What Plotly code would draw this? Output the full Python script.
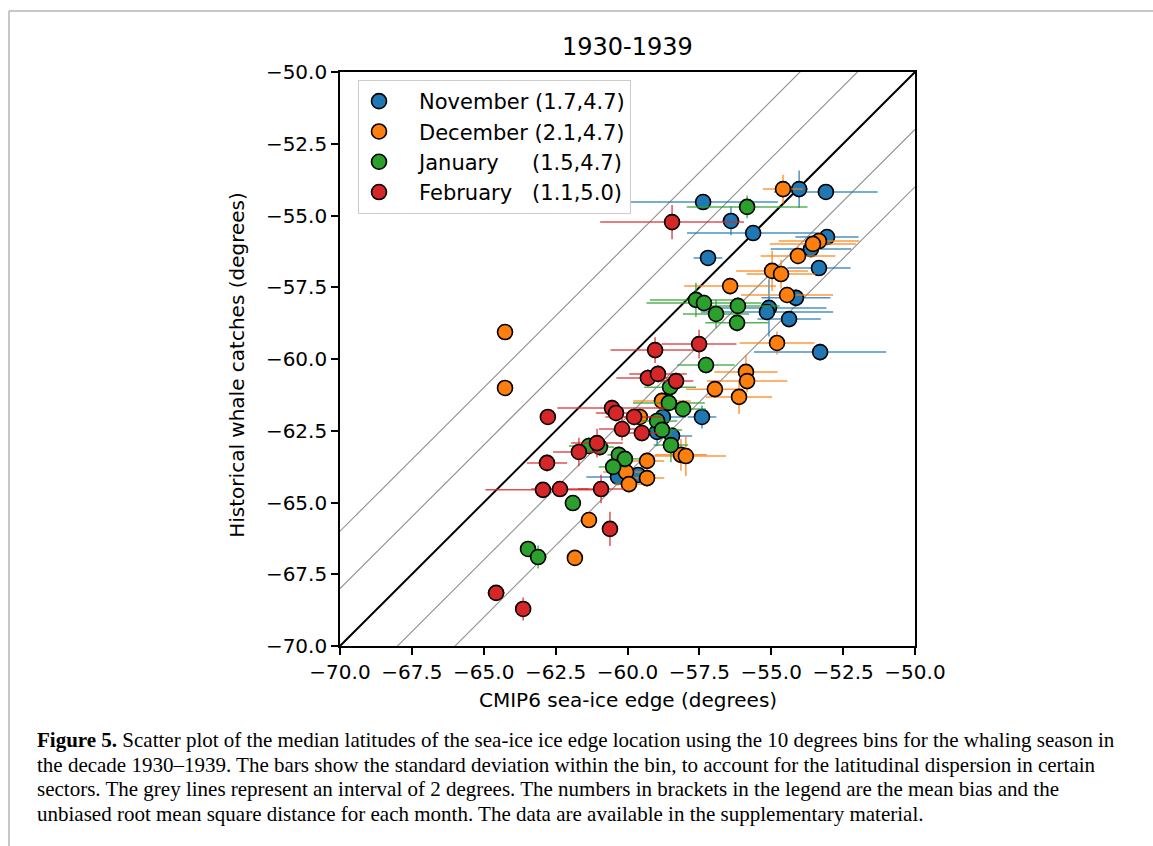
import plotly.graph_objects as go

# ---------------- data ----------------
months = ["November", "December", "January", "February"]
NB = "\u00a0"
legend_labels = [
    NB * 3 + "November (1.7,4.7)",
    NB * 3 + "December (2.1,4.7)",
    NB * 3 + "January" + NB * 5 + "(1.5,4.7)",
    NB * 3 + "February" + NB * 3 + "(1.1,5.0)",
]
colors = ["#1f77b4", "#ff7f0e", "#2ca02c", "#d62728"]
bar_colors = ["rgba(31,119,180,0.8)", "rgba(255,127,14,0.8)",
              "rgba(44,160,44,0.8)", "rgba(214,39,40,0.8)"]

nov_x = [-57.37, -54.03, -53.10, -56.40, -55.63, -53.06, -53.62, -57.20, -53.34, -54.14,
         -55.08, -55.15, -54.38, -53.30, -57.41, -58.77, -58.97, -58.45, -59.63, -60.33]
nov_y = [-54.53, -54.08, -54.18, -55.19, -55.61, -55.75, -56.17, -56.48, -56.83, -57.87,
         -58.22, -58.36, -58.61, -59.76, -62.02, -62.02, -62.54, -62.68, -64.04, -64.11]
nov_xerr = [2.6, 0.3, 1.8, 0.3, 2.3, 1.1, 1.4, 0.5, 1.1, 1.2,
            2.0, 2.3, 1.1, 2.3, 0.5, 0.8, 0.6, 0.7, 0.6, 1.1]
nov_yerr = [0.1, 0.65, 0.1, 0.5, 0.1, 0.2, 0.2, 0.1, 0.2, 0.3,
            1.0, 0.3, 0.2, 0.3, 0.4, 0.3, 0.5, 0.3, 0.2, 0.2]

dec_x = [-54.59, -53.34, -53.55, -54.07, -54.97, -54.66, -56.43, -54.45, -54.80, -55.88,
         -55.84, -56.96, -56.12, -58.80, -59.57, -58.14, -57.97, -59.32, -60.05, -59.32,
         -59.95, -61.34, -61.83, -64.26, -64.26]
dec_y = [-54.08, -55.89, -55.99, -56.41, -56.93, -57.04, -57.46, -57.77, -59.44, -60.45,
         -60.77, -61.05, -61.32, -61.46, -62.02, -63.34, -63.38, -63.55, -63.94, -64.15,
         -64.36, -65.61, -66.93, -59.06, -61.01]
dec_xerr = [0.7, 1.4, 1.5, 1.3, 1.25, 1.2, 1.6, 1.6, 1.3, 1.1,
            1.4, 1.0, 1.15, 1.0, 0.8, 0.9, 1.4, 0.6, 0.8, 0.6,
            0.5, 0.0, 0.0, 0.0, 0.0]
dec_yerr = [0.5, 0.3, 0.3, 0.3, 0.7, 0.5, 0.3, 0.3, 0.4, 0.6,
            0.4, 0.3, 0.6, 0.3, 0.3, 0.55, 0.7, 0.3, 0.3, 0.3,
            0.3, 0.0, 0.0, 0.0, 0.0]

jan_x = [-55.84, -57.62, -57.34, -56.16, -56.92, -56.19, -57.27, -58.52, -58.56, -58.07,
         -58.97, -58.80, -58.49, -61.34, -60.96, -60.30, -60.09, -60.50, -61.90, -63.46, -63.11]
jan_y = [-54.70, -57.94, -58.05, -58.15, -58.43, -58.74, -60.21, -60.98, -61.53, -61.74,
         -62.16, -62.47, -63.00, -63.03, -63.07, -63.34, -63.48, -63.76, -65.02, -66.62, -66.90]
jan_xerr = [2.1, 1.6, 2.0, 1.45, 1.15, 1.1, 1.0, 0.9, 1.25, 0.8,
            0.7, 0.7, 0.6, 0.7, 0.5, 0.4, 0.5, 0.5, 0.0, 0.0, 0.3]
jan_yerr = [0.4, 0.6, 0.3, 0.3, 0.5, 0.3, 0.3, 0.3, 0.3, 0.3,
            0.3, 0.3, 0.6, 0.3, 0.3, 0.3, 0.3, 0.3, 0.0, 0.0, 0.4]

feb_x = [-58.45, -59.04, -57.51, -59.29, -58.94, -58.31, -62.77, -60.54, -60.40, -59.77,
         -60.19, -59.50, -61.06, -61.69, -62.80, -62.94, -62.35, -60.92, -60.61, -64.57, -63.63]
feb_y = [-55.23, -59.69, -59.48, -60.66, -60.52, -60.77, -62.02, -61.71, -61.88, -62.02,
         -62.44, -62.58, -62.93, -63.24, -63.62, -64.56, -64.53, -64.53, -65.92, -68.15, -68.71]
feb_xerr = [2.5, 1.55, 1.3, 1.1, 1.0, 0.6, 0.0, 1.9, 0.7, 1.0,
            0.8, 0.6, 0.9, 0.9, 0.7, 2.0, 1.0, 0.8, 0.0, 0.3, 0.0]
feb_yerr = [0.6, 0.45, 0.5, 0.3, 0.3, 0.3, 0.0, 0.3, 0.3, 0.3,
            0.4, 0.3, 0.5, 0.5, 0.3, 0.2, 0.2, 0.5, 0.6, 0.1, 0.4]

series_x = [nov_x, dec_x, jan_x, feb_x]
series_y = [nov_y, dec_y, jan_y, feb_y]
series_xerr = [nov_xerr, dec_xerr, jan_xerr, feb_xerr]
series_yerr = [nov_yerr, dec_yerr, jan_yerr, feb_yerr]

axis_range = [-70.0, -50.0]
tick_values = [-70.0, -67.5, -65.0, -62.5, -60.0, -57.5, -55.0, -52.5, -50.0]
tick_text = [f"{v:.1f}".replace("-", "\u2212") for v in tick_values]
grey_offsets = [-4, -2, 2, 4]

title_text = "1930-1939"
xlabel = "CMIP6 sea-ice edge (degrees)"
ylabel = "Historical whale catches (degrees)"
caption_lines = [
    "<b>Figure 5.</b> Scatter plot of the median latitudes of the sea-ice ice edge location using the 10 degrees bins for the whaling season in",
    "the decade 1930\u20131939. The bars show the standard deviation within the bin, to account for the latitudinal dispersion in certain",
    "sectors. The grey lines represent an interval of 2 degrees. The numbers in brackets in the legend are the mean bias and the",
    "unbiased root mean square distance for each month. The data are available in the supplementary material.",
]

# ---------------- layout geometry (pixels) ----------------
W, H = 1153, 846
PL, PR, PT, PB = 340, 915, 72, 646


def px_x(p):
    return (p - PL) / (PR - PL)


def px_y(p):
    return (PB - p) / (PB - PT)


fig = go.Figure()

# reference lines
for k in grey_offsets:
    fig.add_trace(go.Scatter(
        x=axis_range, y=[axis_range[0] + k, axis_range[1] + k], mode="lines",
        line=dict(color="#8f8f8f", width=1.1), showlegend=False, hoverinfo="skip"))
fig.add_trace(go.Scatter(
    x=axis_range, y=axis_range, mode="lines",
    line=dict(color="black", width=2), showlegend=False, hoverinfo="skip"))

for i, m in enumerate(months):
    fig.add_trace(go.Scatter(
        x=series_x[i], y=series_y[i], mode="markers",
        name=legend_labels[i], legendgroup=m,
        marker=dict(size=15, color=colors[i], line=dict(color="black", width=1.6)),
        error_x=dict(type="data", array=series_xerr[i], visible=True,
                     color=bar_colors[i], thickness=1.5, width=0),
        error_y=dict(type="data", array=series_yerr[i], visible=True,
                     color=bar_colors[i], thickness=1.5, width=0),
    ))

axis_common = dict(
    range=axis_range, tickvals=tick_values, ticktext=tick_text,
    showline=True, linecolor="black", linewidth=1.6, mirror=True,
    ticks="outside", ticklen=7, tickwidth=1.6, tickcolor="black",
    showgrid=False, zeroline=False,
    tickfont=dict(family="DejaVu Sans", size=20, color="black"),
)

annotations = [
    dict(text=title_text, x=0.5, y=px_y(47), xref="paper", yref="paper",
         showarrow=False, xanchor="center", yanchor="middle",
         font=dict(family="DejaVu Sans", size=24, color="black")),
    dict(text=xlabel, x=0.5, y=px_y(700), xref="paper", yref="paper",
         showarrow=False, xanchor="center", yanchor="middle",
         font=dict(family="DejaVu Sans", size=20, color="black")),
    dict(text=ylabel, x=px_x(237), y=0.49, xref="paper", yref="paper",
         showarrow=False, xanchor="center", yanchor="middle", textangle=-90,
         font=dict(family="DejaVu Sans", size=20, color="black")),
]
for j, line in enumerate(caption_lines):
    annotations.append(dict(
        text=line, x=px_x(35), y=px_y(740 + 24.5 * j), xref="paper", yref="paper",
        showarrow=False, xanchor="left", yanchor="middle", align="left",
        font=dict(family="Liberation Serif", size=21, color="black")))

shapes = [
    dict(type="line", xref="paper", yref="paper",
         x0=px_x(9), y0=px_y(11), x1=px_x(W + 5), y1=px_y(11),
         line=dict(color="#b5b5b5", width=1.5)),
    dict(type="line", xref="paper", yref="paper",
         x0=px_x(9), y0=px_y(11), x1=px_x(9), y1=px_y(H + 5),
         line=dict(color="#b5b5b5", width=1.5)),
]

fig.update_layout(
    width=W, height=H,
    margin=dict(l=PL, r=W - PR, t=PT, b=H - PB, pad=0),
    paper_bgcolor="white", plot_bgcolor="white",
    xaxis=axis_common, yaxis=axis_common,
    showlegend=True,
    legend=dict(x=px_x(358), y=px_y(80), xanchor="left", yanchor="top",
                bgcolor="white", bordercolor="#cccccc", borderwidth=1,
                font=dict(family="DejaVu Sans", size=21, color="black"),
                traceorder="normal", tracegroupgap=2),
    annotations=annotations,
    shapes=shapes,
)

fig.write_html("out.html")
